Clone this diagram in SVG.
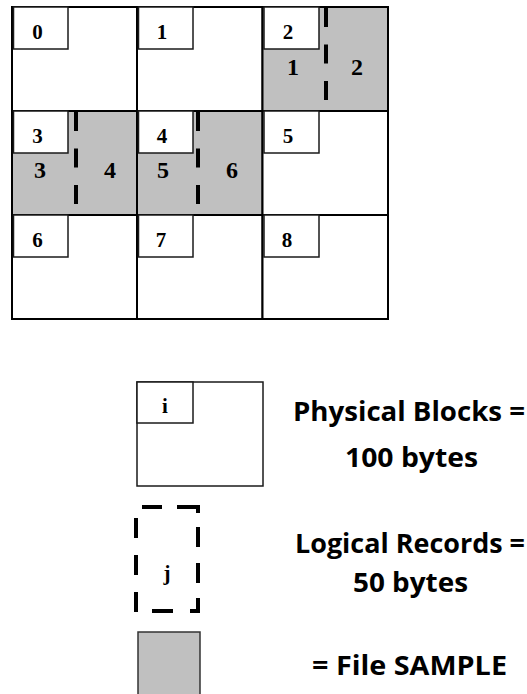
<svg xmlns="http://www.w3.org/2000/svg" width="527" height="694" viewBox="0 0 527 694">
  <style>
    .cell { fill: #ffffff; stroke: #000000; stroke-width: 2; }
    .cell.file { fill: #c0c0c0; }
    .tag { fill: #ffffff; stroke: #1a1a1a; stroke-width: 1.5; }
    .num { font-family: "Liberation Serif", "Times New Roman", serif; font-weight: bold; font-size: 21px; text-anchor: middle; fill: #000000; }
    .rec { font-size: 24px; }
    .split { fill: none; stroke: #000000; stroke-width: 4; stroke-dasharray: 19 17.5; }
    .legend-box { fill: #ffffff; stroke: #1a1a1a; stroke-width: 1.5; }
    .legend-file { fill: #c0c0c0; stroke: #333333; stroke-width: 1.5; }
    .legend-dash { fill: none; stroke: #000000; stroke-width: 4; stroke-linecap: butt; }
    .caption { font-family: "Open Sans", "Noto Sans", sans-serif; font-weight: bold; font-size: 26px; fill: #000000; }
  </style>

  <!-- physical blocks 0..8, three per row -->
  <g id="block-0">
    <rect class="cell" x="12" y="7" width="125" height="104"/>
    <rect class="tag" x="13.5" y="7" width="54.5" height="42"/>
    <text class="num" x="37.5" y="39">0</text>
  </g>
  <g id="block-1">
    <rect class="cell" x="137" y="7" width="125.5" height="104"/>
    <rect class="tag" x="138.5" y="7" width="54.5" height="42"/>
    <text class="num" x="162" y="39">1</text>
  </g>
  <g id="block-2">
    <rect class="cell file" x="262.5" y="7" width="125.5" height="104"/>
    <rect class="tag" x="264" y="7" width="55" height="42"/>
    <text class="num" x="288" y="39">2</text>
    <text class="num rec" x="293" y="75">1</text>
    <text class="num rec" x="357" y="75">2</text>
  </g>

  <g id="block-3">
    <rect class="cell file" x="12" y="111" width="125" height="104"/>
    <rect class="tag" x="13.5" y="111" width="54.5" height="42"/>
    <text class="num" x="37.5" y="143">3</text>
    <text class="num rec" x="40" y="178">3</text>
    <text class="num rec" x="110" y="178">4</text>
  </g>
  <g id="block-4">
    <rect class="cell file" x="137" y="111" width="125.5" height="104"/>
    <rect class="tag" x="138.5" y="111" width="54.5" height="42"/>
    <text class="num" x="162" y="143">4</text>
    <text class="num rec" x="163" y="178">5</text>
    <text class="num rec" x="232" y="178">6</text>
  </g>
  <g id="block-5">
    <rect class="cell" x="262.5" y="111" width="125.5" height="104"/>
    <rect class="tag" x="264" y="111" width="55" height="42"/>
    <text class="num" x="288" y="143">5</text>
  </g>

  <g id="block-6">
    <rect class="cell" x="12" y="215" width="125" height="104"/>
    <rect class="tag" x="13.5" y="215" width="54.5" height="42"/>
    <text class="num" x="37.5" y="247">6</text>
  </g>
  <g id="block-7">
    <rect class="cell" x="137" y="215" width="125.5" height="104"/>
    <rect class="tag" x="138.5" y="215" width="54.5" height="42"/>
    <text class="num" x="161" y="247">7</text>
  </g>
  <g id="block-8">
    <rect class="cell" x="262.5" y="215" width="125.5" height="104"/>
    <rect class="tag" x="264" y="215" width="55" height="42"/>
    <text class="num" x="287" y="247">8</text>
  </g>

  <!-- logical record boundaries inside the file blocks -->
  <g id="record-splits">
    <path class="split" d="M326 8 V101"/>
    <path class="split" d="M76 112 V205"/>
    <path class="split" d="M198 112 V205"/>
  </g>

  <!-- key -->
  <g id="key-block">
    <rect class="legend-box" x="137" y="382" width="126" height="104"/>
    <rect class="tag" x="137" y="382" width="56" height="41"/>
    <text class="num" x="165" y="413">i</text>
    <text class="caption" x="293" y="421" textLength="232" lengthAdjust="spacingAndGlyphs">Physical Blocks =</text>
    <text class="caption" x="345" y="467" textLength="133" lengthAdjust="spacingAndGlyphs">100 bytes</text>
  </g>

  <g id="key-record">
    <path class="legend-dash" d="M142 507 H162 M177 507 H198 V513 M198 527 V547 M198 563 V583 M198 598 V611 H190 M173 611 H152 M136 612 V592 M136 575 V555 M136 538 V518"/>
    <text class="num" x="167" y="580">j</text>
    <text class="caption" x="295" y="553" textLength="230" lengthAdjust="spacingAndGlyphs">Logical Records =</text>
    <text class="caption" x="353" y="592" textLength="115" lengthAdjust="spacingAndGlyphs">50 bytes</text>
  </g>

  <g id="key-file">
    <rect class="legend-file" x="138" y="632" width="62" height="70"/>
    <text class="caption" x="312" y="675" textLength="195" lengthAdjust="spacingAndGlyphs">= File SAMPLE</text>
  </g>
</svg>
